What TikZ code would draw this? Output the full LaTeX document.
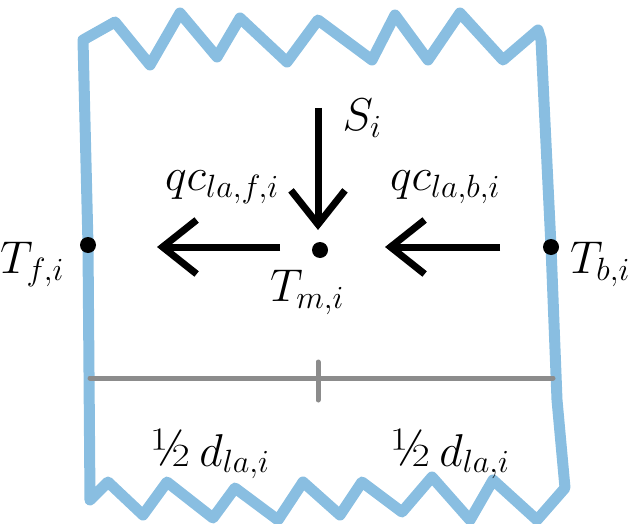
\RequirePackage{fix-cm}
\documentclass[tikz,border=0pt]{standalone}
\usetikzlibrary{arrows.meta}
\definecolor{wallblue}{RGB}{137,190,225}
\definecolor{dimgray}{RGB}{140,140,140}
\newcommand{\halfsym}{{\fontsize{54}{54}\selectfont ½}}
\begin{document}
\begin{tikzpicture}[x=1pt,y=-1pt,
  wall/.style={wallblue,line width=11pt,line join=round,line cap=round},
  flux/.style={line width=7pt,-{Straight Barb[length=34pt,width=54pt,line width=7pt]}},
  dimline/.style={dimgray,line width=5pt,line cap=round},
  lbl/.style={font=\fontsize{46}{54}\selectfont,inner sep=0pt},
  dot/.style={circle,fill=black,inner sep=0pt,minimum size=16pt}]
\useasboundingbox (0,0) rectangle (631,524);
% wall outline
\draw[wall] (83,40) -- (115,22) -- (150,65) -- (180,13) -- (217,57) -- (240,18) -- (287,62)
  -- (318,20) -- (372,60) -- (395,15) -- (428,60) -- (460,13) -- (503,60) -- (538,30)
  -- (541,40) -- (551,247) -- (557,400) -- (565,488) -- (537,520) -- (493,480) -- (470,520)
  -- (432,477) -- (402,512) -- (362,482) -- (340,515) -- (303,482) -- (278,520) -- (235,488)
  -- (213,518) -- (167,482) -- (143,515) -- (108,482) -- (90,500) -- (88,245) -- cycle;
% dimension line
\coordinate (dl) at (90,378);
\coordinate (dr) at (553,378);
\coordinate (dt) at (318,362);
\coordinate (db) at (318,400);
\draw[dimline] (dl) -- (dr);
\draw[dimline] (dt) -- (db);
% points
\node[dot] (tf) at (88,245) {};
\node[dot] (tm) at (320,250) {};
\node[dot] (tb) at (551,247) {};
% arrows
\coordinate (fs) at (280,247);
\coordinate (fe) at (157,247);
\coordinate (bs) at (500,247);
\coordinate (be) at (385,247);
\coordinate (ss) at (318,108);
\coordinate (se) at (318,230);
\draw[flux] (fs) -- (fe);
\draw[flux] (bs) -- (be);
\draw[flux] (ss) -- (se);
% labels
\node[lbl] (si) at (362,118) {$S_i$};
\node[lbl] (qcf) at (222,187) {$qc_{la,f,i}$};
\node[lbl] (qcb) at (445,187) {$qc_{la,b,i}$};
\node[lbl] (tfl) at (32,264) {$T_{f,i}$};
\node[lbl] (tml) at (307,292) {$T_{m,i}$};
\node[lbl] (tbl) at (600,264) {$T_{b,i}$};
\node[lbl,anchor=base] (hl) at (210,466) {\halfsym\,$d_{la,i}$};
\node[lbl,anchor=base] (hr) at (450,466) {\halfsym\,$d_{la,i}$};
\end{tikzpicture}
\end{document}
